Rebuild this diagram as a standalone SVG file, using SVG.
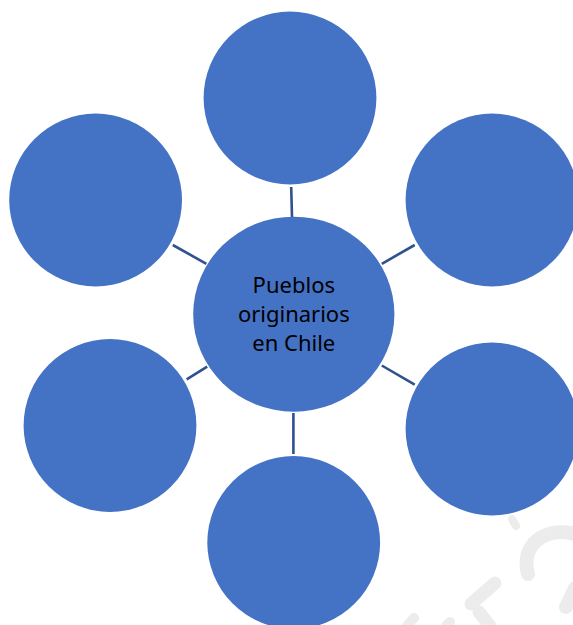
<svg xmlns="http://www.w3.org/2000/svg" width="573" height="625" viewBox="0 0 573 625">
<style>
.node{fill:#4472C4;}
.conn line{stroke:#2F528F;stroke-width:2.6;}
.lbl{font-family:"Noto Sans","Open Sans",sans-serif;font-size:22px;fill:#000;text-anchor:middle;}
.wm{fill:none;stroke:#ECECEC;stroke-linecap:round;}
</style>
<rect width="573" height="625" fill="#FFFFFF"/>
<g id="watermark">
<path class="wm" d="M512,519 L516,526" stroke-width="8"/>
<path class="wm" d="M528,574 C520,545 545,526 575,534" stroke-width="14"/>
<path class="wm" d="M566,607 L575,588" stroke-width="14"/>
<path class="wm" d="M471,604 L495,583" stroke-width="13"/>
<path class="wm" d="M479,612 L490,626" stroke-width="13"/>
<path class="wm" d="M407,626 L414,618" stroke-width="10"/>
<path class="wm" d="M446,626 L450,622" stroke-width="10"/>
</g>
<g id="connectors" class="conn">
<line x1="291.2" y1="187" x2="292" y2="217"/>
<line x1="172.8" y1="245" x2="206.4" y2="263.8"/>
<line x1="381.8" y1="263.8" x2="414.7" y2="245"/>
<line x1="186.7" y1="379.4" x2="207.2" y2="366.7"/>
<line x1="381.8" y1="365.5" x2="414.7" y2="384.6"/>
<line x1="293.4" y1="413" x2="293.4" y2="454"/>
</g>
<g id="node-top"><circle class="node" cx="290" cy="98" r="86.4"/></g>
<g id="node-top-left"><circle class="node" cx="95.6" cy="200" r="86.4"/></g>
<g id="node-top-right"><circle class="node" cx="492" cy="200" r="86.4"/></g>
<g id="node-bottom-left"><circle class="node" cx="110" cy="425.5" r="86.4"/></g>
<g id="node-bottom-right"><circle class="node" cx="492" cy="429" r="86.4"/></g>
<g id="node-bottom"><circle class="node" cx="293.7" cy="542.5" r="86.4"/></g>
<g id="node-center">
<ellipse class="node" cx="293.8" cy="314.2" rx="100.6" ry="97.5"/>
<text class="lbl" x="293.8" y="293.3">Pueblos</text>
<text class="lbl" x="293.8" y="321.7">originarios</text>
<text class="lbl" x="293.8" y="350.7">en Chile</text>
</g>
</svg>
